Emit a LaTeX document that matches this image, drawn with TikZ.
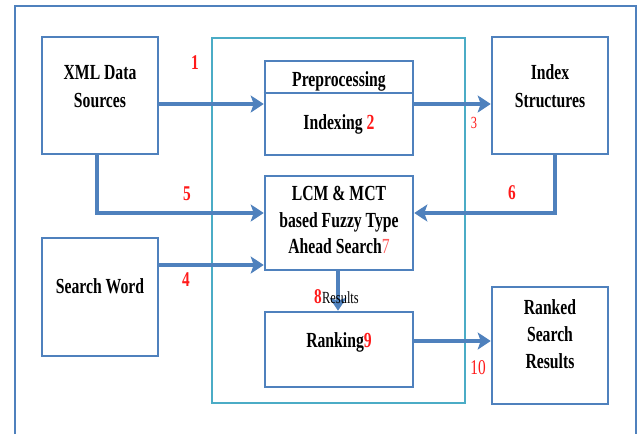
\documentclass[tikz,border=0pt]{standalone}
\usepackage{fontspec}
\setmainfont[FakeStretch=0.73]{Liberation Serif}
\usetikzlibrary{arrows.meta,calc}
\definecolor{boxblue}{HTML}{4F81BD}
\definecolor{framecyan}{HTML}{4BACC6}
\definecolor{numred}{HTML}{FF1A1A}
\definecolor{numpink}{HTML}{FF5A5A}
\tikzset{
  box/.style={draw=boxblue, line width=2.6pt, fill=white, inner sep=0pt},
  lbl/.style={font=\bfseries\fontsize{21.5}{27}\selectfont, anchor=base, inner sep=0pt, text=black},
  num/.style={font=\bfseries\fontsize{21}{24}\selectfont, anchor=base, inner sep=0pt, text=numred},
  smallnum/.style={font=\fontsize{17}{20}\selectfont, anchor=base, inner sep=0pt, text=numred},
  flow/.style={draw=boxblue, line width=3.6pt,
    -{Stealth[length=13pt,width=17pt,inset=3pt]}},
}
\begin{document}
\begin{tikzpicture}[x=1pt,y=-1pt]
\useasboundingbox (0,0) rectangle (639,434);
\fill[white] (0,0) rectangle (639,434);
% outer border, open at the bottom
\draw[boxblue, line width=2.4pt] (15,434) -- (15,6) -- (636,6) -- (636,434);
% inner processing frame
\node[draw=framecyan, line width=1.8pt, minimum width=253pt, minimum height=365pt, inner sep=0pt] (frame) at (338.5,220.5) {};

% routing coordinates
\coordinate (r1) at (0,104);
\coordinate (c5) at (97,213);
\coordinate (c6) at (555,213);
\coordinate (r4) at (0,265);
\coordinate (c8) at (338,0);
\coordinate (r10) at (0,341);

% boxes
\node[box, minimum width=116pt, minimum height=117pt] (xml) at (100,95.5) {};
\node[box, minimum width=116pt, minimum height=117pt] (idx) at (550,95.5) {};
\node[box, minimum width=148pt, minimum height=94pt] (prep) at (339,108) {};
\node[box, minimum width=148pt, minimum height=94pt] (lcm) at (339,223) {};
\node[box, minimum width=116pt, minimum height=118pt] (sw) at (100,297) {};
\node[box, minimum width=148pt, minimum height=75pt] (rank) at (339,349.5) {};
\node[box, minimum width=116pt, minimum height=117pt] (res) at (550,345.5) {};
\draw[boxblue, line width=1.2pt] (prep.west |- 0,93) -- (prep.east |- 0,93);

% connectors
\draw[flow] (xml.east |- r1) -- (prep.west |- r1);
\draw[flow] (prep.east |- r1) -- (idx.west |- r1);
\draw[flow] (xml.south -| c5) |- (lcm.west |- c5);
\draw[flow] (idx.south -| c6) |- (lcm.east |- c6);
\draw[flow] (sw.east |- r4) -- (lcm.west |- r4);
\draw[flow] (lcm.south -| c8) -- (rank.north -| c8);
\draw[flow] (rank.east |- r10) -- (res.west |- r10);

% box texts
\node[lbl] (t1a) at (100,79) {XML Data};
\node[lbl] (t1b) at (100,107) {Sources};
\node[lbl] (t2a) at (550,79) {Index};
\node[lbl] (t2b) at (550,107) {Structures};
\node[lbl] (t3a) at (339,86) {Preprocessing};
\node[lbl] (t3b) at (339,129) {Indexing \textcolor{numred}{2}};
\node[lbl] (t4a) at (339,200) {LCM \& MCT};
\node[lbl] (t4b) at (339,227) {based Fuzzy Type};
\node[lbl] (t4c) at (339,253) {Ahead Search\textcolor{numpink}{\mdseries 7}};
\node[lbl] (t5) at (100,293) {Search Word};
\node[lbl] (t6) at (339,347) {Ranking\textcolor{numred}{9}};
\node[lbl] (t7a) at (550,314) {Ranked};
\node[lbl] (t7b) at (550,341) {Search};
\node[lbl] (t7c) at (550,368) {Results};

% step numbers
\node[num] (n1) at (195,69) {1};
\node[smallnum] (n3) at (474,128) {3};
\node[num] (n5) at (187,200) {5};
\node[num] (n6) at (512,199) {6};
\node[num] (n4) at (186,286) {4};
\node[smallnum, font=\fontsize{21}{24}\selectfont] (n10) at (478,374) {10};
\node[num, anchor=base east] (n8) at (322,303) {8};
\node[anchor=base west, inner sep=0pt, font=\fontsize{17}{18}\selectfont] (res8) at (n8.base east) {Results};
\end{tikzpicture}
\end{document}
